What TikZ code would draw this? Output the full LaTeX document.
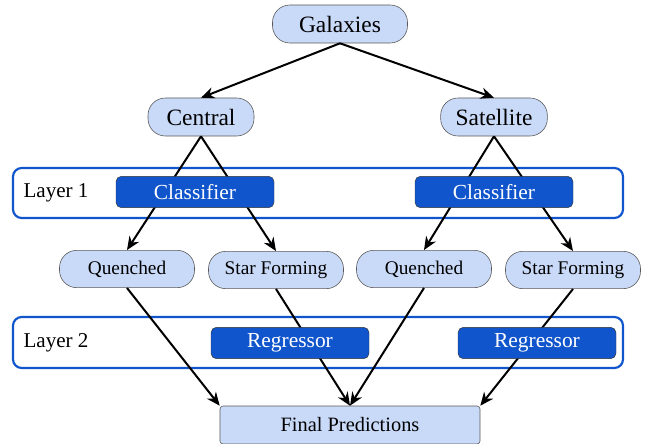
\documentclass[tikz,border=0pt]{standalone}
\usepackage{fontspec}
\setmainfont{Liberation Serif}
\usepackage{tikz}
\usetikzlibrary{arrows.meta}

\definecolor{paleblue}{HTML}{C9DAF8}
\definecolor{deepblue}{HTML}{1155CC}
\definecolor{boxgray}{HTML}{595959}

\begin{document}
\begin{tikzpicture}[x=0.3mm, y=-0.3mm]
	\path [use as bounding box] (0,0) rectangle (655,443);
	\tikzstyle{pill} = [draw=boxgray, fill=paleblue, rounded corners=5.2mm, inner sep=0pt, line width=0.5pt]
	\tikzstyle{model} = [draw=black!80, fill=deepblue, text=white, rounded corners=1.6mm, inner sep=0pt, minimum width=47.4mm, minimum height=9.4mm, font=\fontsize{18.3}{20}\selectfont]
	\tikzstyle{layer} = [draw=deepblue, line width=0.65mm, rounded corners=2.6mm, fill=white]
	\tikzstyle{flow} = [-{Stealth[length=4mm, width=3.4mm, inset=1.3mm]}, line width=0.6mm]
	% the two layer frames
	\draw[layer] (13,168) rectangle (623,218);
	\draw[layer] (13,317) rectangle (623,368);
	\node[font=\fontsize{18}{20}\selectfont] (l1) at (56,193) {Layer 1};
	\node[font=\fontsize{18}{20}\selectfont] (l2) at (56,343) {Layer 2};
	% tree
	\node[pill, minimum width=40.5mm, minimum height=11.4mm, font=\fontsize{20}{22}\selectfont] (gal) at (340,24) {Galaxies};
	\node[pill, minimum width=31.8mm, minimum height=11.4mm, font=\fontsize{20}{22}\selectfont] (cen) at (201,117) {Central};
	\node[pill, minimum width=32mm, minimum height=11.4mm, font=\fontsize{20}{22}\selectfont] (sat) at (494,117) {Satellite};
	\node[pill, minimum width=40.5mm, minimum height=11.2mm, font=\fontsize{16.5}{18}\selectfont] (q1) at (127,269) {Quenched};
	\node[pill, minimum width=40.5mm, minimum height=11.2mm, font=\fontsize{16.5}{18}\selectfont] (sf1) at (276,270) {Star Forming};
	\node[pill, minimum width=40.5mm, minimum height=11.2mm, font=\fontsize{16.5}{18}\selectfont] (q2) at (424,269) {Quenched};
	\node[pill, minimum width=40.5mm, minimum height=11.2mm, font=\fontsize{16.5}{18}\selectfont] (sf2) at (573,270) {Star Forming};
	\node[draw=boxgray, fill=paleblue, rounded corners=0.9mm, inner sep=0pt, line width=0.5pt, minimum width=78mm, minimum height=11.4mm, font=\fontsize{17.4}{19}\selectfont] (fin) at (350,425) {Final Predictions};
	\draw[flow] (gal.south) -- (cen.north);
	\draw[flow] (gal.south) -- (sat.north);
	\draw[flow] (cen.south) -- (q1.north);
	\draw[flow] (cen.south) -- (sf1.north);
	\draw[flow] (sat.south) -- (q2.north);
	\draw[flow] (sat.south) -- (sf2.north);
	\draw[flow] (q1.south) -- (fin.north west);
	\draw[flow] (sf1.south) -- (fin.north);
	\draw[flow] (q2.south) -- (fin.north);
	\draw[flow] (sf2.south) -- (fin.north east);
	% models sit on top of the arrows
	\node[model] (cl1) at (195,192) {Classifier};
	\node[model] (cl2) at (494,192) {Classifier};
	\node[model] (rg1) at (290,343) {Regressor};
	\node[model] (rg2) at (537,343) {Regressor};
\end{tikzpicture}
\end{document}
